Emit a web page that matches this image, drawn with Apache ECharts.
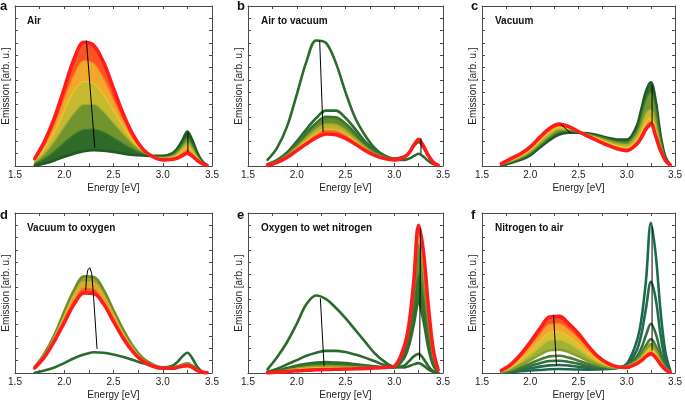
<!DOCTYPE html>
<html><head><meta charset="utf-8">
<script src="https://cdn.jsdelivr.net/npm/echarts@6/dist/echarts.min.js"></script>
<style>html,body{margin:0;padding:0;background:#fff}#c{width:685px;height:403px}</style>
</head><body><div id="c"></div>
<script>
// shared energy grid (eV)
const energy = [1.7,1.8,1.9,2.0,2.1,2.2,2.3,2.4,2.5,2.6,2.7,2.8,2.9,3.0,3.1,3.15,3.2,3.25,3.3,3.35,3.4,3.45];
const xTicks = [1.5,2.0,2.5,3.0,3.5];

// a: Air
const air0 = [0.05,0.2,0.45,0.75,1.0,1.2,1.28,1.25,1.15,1.0,0.9,0.85,0.82,0.82,1.05,1.45,2.1,2.8,2.1,1.1,0.4,0.08];
const air1 = [0.2,0.6,1.2,1.9,2.55,2.95,3.0,2.75,2.3,1.8,1.35,1.0,0.8,0.75,0.95,1.3,1.8,2.3,1.75,0.9,0.35,0.07];
const air2 = [0.32,1.0,2.0,3.2,4.3,5.0,5.0,4.4,3.5,2.6,1.75,1.15,0.78,0.68,0.8,1.05,1.5,1.9,1.45,0.75,0.3,0.06];
const air3 = [0.43,1.4,2.75,4.5,6.1,6.85,6.7,5.8,4.5,3.2,2.0,1.22,0.76,0.6,0.7,0.9,1.25,1.55,1.2,0.65,0.27,0.06];
const air4 = [0.52,1.7,3.3,5.4,7.4,8.55,8.3,7.1,5.35,3.65,2.25,1.28,0.75,0.55,0.62,0.75,1.05,1.3,1.0,0.55,0.23,0.05];
const air5 = [0.6,2.0,3.9,6.3,8.7,10.05,9.8,8.4,6.3,4.2,2.5,1.35,0.75,0.5,0.55,0.65,0.85,1.05,0.8,0.45,0.2,0.05];

// b: Air to vacuum
const airVac0 = [0.5,1.5,3.2,5.8,8.5,10.2,10.0,8.4,6.0,3.9,2.5,1.45,0.82,0.5,0.5,0.6,0.8,1.0,0.75,0.4,0.15,0.03];
const airVac1 = [0.15,0.5,1.1,2.0,3.0,3.9,4.5,4.5,3.9,3.0,2.0,1.3,0.85,0.6,0.75,1.05,1.6,1.95,1.5,0.8,0.3,0.05];
const airVac2 = [0.12,0.45,1.0,1.8,2.7,3.5,4.0,3.95,3.45,2.65,1.8,1.2,0.8,0.58,0.75,1.07,1.65,2.05,1.55,0.85,0.32,0.05];
const airVac3 = [0.1,0.4,0.9,1.6,2.35,3.05,3.45,3.4,2.95,2.3,1.6,1.05,0.72,0.55,0.75,1.1,1.7,2.15,1.65,0.88,0.33,0.05];
const airVac4 = [0.08,0.35,0.8,1.4,2.05,2.65,3.0,2.95,2.6,2.0,1.4,0.95,0.66,0.52,0.75,1.12,1.75,2.28,1.72,0.9,0.34,0.05];
const airVac5 = [0.05,0.3,0.7,1.25,1.8,2.3,2.6,2.55,2.25,1.78,1.27,0.87,0.6,0.5,0.72,1.05,1.68,2.15,1.6,0.85,0.3,0.05];

// c: Vacuum
const vac0 = [0.05,0.25,0.5,0.87,1.5,2.1,2.55,2.7,2.7,2.65,2.5,2.3,2.15,2.15,3.2,4.6,6.1,6.8,5.3,2.5,0.75,0.1];
const vac1 = [0.08,0.32,0.6,1.0,1.65,2.3,2.75,2.85,2.75,2.6,2.42,2.2,2.0,1.95,2.85,4.0,5.4,6.0,4.6,2.2,0.68,0.1];
const vac2 = [0.11,0.39,0.7,1.15,1.85,2.5,2.95,2.95,2.78,2.55,2.33,2.05,1.82,1.72,2.45,3.3,4.3,4.6,3.5,1.75,0.57,0.09];
const vac3 = [0.14,0.46,0.8,1.3,2.05,2.72,3.12,3.05,2.8,2.5,2.22,1.9,1.62,1.5,2.05,2.75,3.6,3.9,2.9,1.45,0.5,0.08];
const vac4 = [0.17,0.53,0.9,1.42,2.2,2.9,3.27,3.12,2.8,2.45,2.13,1.8,1.5,1.36,1.9,2.5,3.25,3.6,2.6,1.35,0.47,0.08];
const vac5 = [0.2,0.6,1.0,1.55,2.35,3.05,3.4,3.2,2.8,2.4,2.05,1.7,1.4,1.25,1.75,2.3,3.0,3.4,2.4,1.25,0.45,0.08];

// d: Vacuum to oxygen
const vacOx0 = [0.02,0.2,0.45,0.8,1.2,1.5,1.68,1.65,1.5,1.3,1.05,0.8,0.57,0.46,0.6,0.9,1.35,1.65,1.2,0.5,0.12,0.02];
const vacOx1 = [0.5,1.6,3.1,5.0,6.75,7.85,7.8,6.75,5.1,3.5,2.15,1.2,0.7,0.45,0.45,0.55,0.7,0.78,0.6,0.3,0.1,0.02];
const vacOx2 = [0.47,1.5,2.95,4.7,6.4,7.4,7.35,6.35,4.8,3.25,2.0,1.1,0.65,0.43,0.43,0.52,0.65,0.72,0.55,0.28,0.09,0.02];
const vacOx3 = [0.44,1.4,2.8,4.4,6.0,6.95,6.9,5.95,4.5,3.0,1.85,1.02,0.6,0.4,0.4,0.48,0.6,0.66,0.5,0.25,0.08,0.02];
const vacOx4 = [0.4,1.3,2.6,4.1,5.6,6.5,6.45,5.6,4.2,2.8,1.7,0.95,0.55,0.38,0.38,0.45,0.55,0.6,0.45,0.22,0.07,0.02];

// e: Oxygen to wet nitrogen
const oxWet0 = [0.3,1.3,2.5,4.0,5.6,6.3,6.0,5.3,4.45,3.5,2.55,1.6,0.92,0.5,0.45,0.55,0.7,0.8,0.6,0.3,0.1,0.02];
const oxWet1 = [0.1,0.35,0.7,1.05,1.4,1.65,1.8,1.8,1.7,1.5,1.25,0.95,0.65,0.45,0.6,0.95,1.35,1.55,1.15,0.55,0.15,0.02];
const oxWet2 = [0.05,0.2,0.4,0.6,0.75,0.85,0.88,0.85,0.8,0.72,0.63,0.55,0.47,0.45,1.2,2.2,3.9,5.7,4.2,2.0,0.6,0.05];
const oxWet3 = [0.04,0.16,0.33,0.5,0.63,0.7,0.72,0.7,0.66,0.6,0.55,0.5,0.46,0.48,1.6,3.0,5.3,8.0,6.0,3.0,0.9,0.08];
const oxWet4 = [0.03,0.12,0.26,0.4,0.5,0.55,0.57,0.56,0.53,0.5,0.47,0.45,0.45,0.5,1.9,3.6,6.7,10.5,8.0,4.1,1.3,0.15];
const oxWet5 = [0.02,0.09,0.19,0.3,0.37,0.42,0.44,0.43,0.42,0.41,0.41,0.42,0.45,0.52,2.0,3.8,7.1,11.4,9.0,4.8,1.6,0.2];
const oxWet6 = [0.01,0.06,0.12,0.18,0.22,0.26,0.28,0.3,0.32,0.34,0.37,0.4,0.45,0.55,2.1,3.9,7.4,12.0,9.8,5.4,1.9,0.25];

// f: Nitrogen to air
const nitAir0 = [0.03,0.08,0.14,0.2,0.25,0.3,0.32,0.3,0.28,0.27,0.28,0.32,0.42,0.75,2.5,4.3,7.6,12.2,9.6,5.0,1.7,0.2];
const nitAir1 = [0.04,0.12,0.24,0.38,0.52,0.62,0.65,0.6,0.5,0.42,0.36,0.35,0.42,0.65,1.8,3.1,5.3,7.4,6.0,3.1,1.0,0.12];
const nitAir2 = [0.05,0.17,0.35,0.57,0.8,0.97,1.0,0.9,0.74,0.57,0.45,0.4,0.42,0.6,1.3,2.0,3.1,4.0,3.2,1.7,0.6,0.1];
const nitAir3 = [0.06,0.22,0.48,0.78,1.1,1.35,1.4,1.25,1.0,0.75,0.55,0.45,0.42,0.55,1.05,1.55,2.25,2.75,2.2,1.2,0.45,0.08];
const nitAir4 = [0.08,0.3,0.65,1.05,1.5,1.85,1.9,1.7,1.35,0.98,0.68,0.5,0.43,0.52,0.95,1.35,1.95,2.35,1.85,1.0,0.4,0.07];
const nitAir5 = [0.11,0.4,0.88,1.45,2.1,2.65,2.7,2.4,1.9,1.35,0.88,0.58,0.44,0.5,0.9,1.25,1.75,2.1,1.65,0.9,0.35,0.06];
const nitAir6 = [0.14,0.5,1.08,1.8,2.6,3.3,3.35,2.95,2.35,1.65,1.05,0.65,0.45,0.48,0.85,1.15,1.6,1.9,1.5,0.82,0.32,0.06];
const nitAir7 = [0.17,0.6,1.28,2.15,3.1,3.95,4.0,3.5,2.8,1.93,1.2,0.72,0.47,0.46,0.8,1.08,1.45,1.7,1.35,0.75,0.3,0.05];
const nitAir8 = [0.2,0.7,1.5,2.5,3.6,4.55,4.6,4.0,3.2,2.2,1.35,0.8,0.5,0.45,0.75,1.0,1.35,1.55,1.25,0.7,0.28,0.05];

// arrows (annotation polylines in data coordinates)
const arrowsA = [[[2.31,1.5],[2.225,10.2]], [[3.255,2.7],[3.255,1.15]]];
const arrowsB = [[[2.235,10.2],[2.27,2.75]], [[3.274,1.0],[3.274,2.25]]];
const arrowsC = [[[2.418,2.68],[2.316,3.39]], [[3.262,6.56],[3.262,3.4]]];
const arrowsD = [[[2.333,1.95],[2.30,5.93],[2.279,8.1],[2.259,8.56],[2.239,8.37],[2.225,7.7],[2.218,6.7]]];
const arrowsE = [[[2.242,6.07],[2.28,0.55]], [[3.26,1.06],[3.27,11.76]]];
const arrowsF = [[[2.272,0.57],[2.241,4.72]], [[3.262,11.9],[3.262,1.82]]];

const FONT = 'Liberation Sans, Arial, sans-serif';
const panels = [
  {letter:'a', title:'Air', grid:[14,6,198,160], curves:[air0,air1,air2,air3,air4,air5],
   colors:['#1f5a27','#3f7a2b','#a3ad30','#ebc530','#f78a28','#ff1c1c'], fill:[1,1,1,1,1], arrows:arrowsA},
  {letter:'b', title:'Air to vacuum', grid:[248,6,195,160], curves:[airVac0,airVac1,airVac2,airVac3,airVac4,airVac5],
   colors:['#2b6a2c','#2b6a2c','#3a7530','#8fa02c','#e2c232','#ff1c1c'], fill:[0,0,1,1,1], arrows:arrowsB},
  {letter:'c', title:'Vacuum', grid:[482,6,196,160], curves:[vac0,vac1,vac2,vac3,vac4,vac5],
   colors:['#1f5a27','#4a8030','#a3ad30','#ebc530','#f78a28','#ff1c1c'], fill:[1,1,1,1,1], arrows:arrowsC},
  {letter:'d', title:'Vacuum to oxygen', grid:[14,213,198,160], curves:[vacOx0,vacOx1,vacOx2,vacOx3,vacOx4],
   colors:['#2b6a2c','#6f8c2a','#c8b634','#f59a28','#ff1c1c'], fill:[0,1,1,1], arrows:arrowsD},
  {letter:'e', title:'Oxygen to wet nitrogen', grid:[248,213,195,160], curves:[oxWet0,oxWet1,oxWet2,oxWet3,oxWet4,oxWet5,oxWet6],
   colors:['#2b6a2c','#2b6a2c','#2f6d2d','#3b752d','#8fa52e','#eec232','#ff1c1c'], fill:[0,0,1,1,1,1], arrows:arrowsE},
  {letter:'f', title:'Nitrogen to air', grid:[482,213,196,160], curves:[nitAir0,nitAir1,nitAir2,nitAir3,nitAir4,nitAir5,nitAir6,nitAir7,nitAir8],
   colors:['#1a6a52','#24694a','#34703e','#4a7c34','#86a030','#c2c035','#f0c030','#f68a28','#ff1c1c'], fill:[0,0,0,0,1,1,1,1], arrows:arrowsF}
];

function hex(c){return [1,3,5].map(i=>parseInt(c.substr(i,2),16));}
function mix(a,b){const A=hex(a),B=hex(b);return 'rgb('+A.map((v,i)=>Math.round((v+B[i])/2)).join(',')+')';}

const AX = '#4a4a4a';
const grids=[], xAxes=[], yAxes=[], series=[], titles=[];
panels.forEach((p,i)=>{
  const [l,t,w,h]=p.grid;
  grids.push({left:l, top:t, width:w, height:h, containLabel:false});
  const xBase = {gridIndex:i, type:'value', min:1.5, max:3.5, interval:0.25,
    axisLine:{show:true, onZero:false, lineStyle:{color:AX, width:1}},
    axisTick:{show:true, inside:true, length:3, lineStyle:{color:AX}},
    splitLine:{show:false}};
  xAxes.push(Object.assign({}, xBase, {position:'bottom',
    axisLabel:{show:true, margin:4, fontSize:10, fontFamily:FONT, color:'#222', showMinLabel:true, showMaxLabel:true,
      formatter:v=>{const m=xTicks.find(tk=>Math.abs(tk-v)<1e-6); return m===undefined?'':m.toFixed(1);}},
    name:'Energy [eV]', nameLocation:'middle', nameGap:17, nameTextStyle:{fontSize:10, fontFamily:FONT, color:'#222'}}));
  xAxes.push(Object.assign({}, xBase, {position:'top', axisLabel:{show:false}}));
  const yBase = {gridIndex:i, type:'value', min:0, max:13, interval:1,
    axisLine:{show:true, onZero:false, lineStyle:{color:AX, width:1}},
    axisTick:{show:true, inside:true, length:3, lineStyle:{color:AX}},
    axisLabel:{show:false}, splitLine:{show:false}};
  yAxes.push(Object.assign({}, yBase, {position:'left',
    name:'Emission [arb. u.]', nameLocation:'middle', nameGap:4, nameTextStyle:{fontSize:10, fontFamily:FONT, color:'#222'}}));
  yAxes.push(Object.assign({}, yBase, {position:'right'}));

  const n = p.curves.length;
  p.curves.forEach((c,k)=>{
    const prev = k>0 ? p.curves[k-1] : null;
    const inside = k>0 && k<n-1 && p.fill[k-1] && p.fill[k];
    const width = (k===n-1) ? 3.6 : (inside ? 1.3 : 2.6);
    // value column first so that the stack is applied to the emission (y) dimension
    const s = {type:'line', xAxisIndex:2*i, yAxisIndex:2*i, stack:'p'+i, stackStrategy:'all',
      smooth:0.35, symbol:'none', silent:true,
      dimensions:['em','en'], encode:{x:'en', y:'em'},
      data: energy.map((x,j)=>[prev ? +(c[j]-prev[j]).toFixed(4) : c[j], x]),
      lineStyle:{color:p.colors[k], width:width, cap:'round', join:'round'}};
    if (k>0 && p.fill[k-1]) s.areaStyle = {color: mix(p.colors[k-1], p.colors[k]), opacity:1};
    series.push(s);
  });
  series.push({type:'lines', coordinateSystem:'cartesian2d', xAxisIndex:2*i, yAxisIndex:2*i, polyline:true,
    symbol:['none','arrow'], symbolSize:7, silent:true, z:10,
    lineStyle:{color:'#000', width:1, opacity:1},
    data:p.arrows.map(a=>({coords:a}))});

  titles.push({text:p.letter, left:(l<100?0:l-11), top:(t<100?0:t-4), padding:0,
    textStyle:{fontSize:13, fontWeight:'bold', fontFamily:FONT, color:'#111'}});
  titles.push({text:p.title, left:l+13, top:t+10, padding:0,
    textStyle:{fontSize:10, fontWeight:'bold', fontFamily:FONT, color:'#111'}});
});

const chart = echarts.init(document.getElementById('c'), null, {renderer:'canvas'});
chart.setOption({animation:false, backgroundColor:'#fff', title:titles, grid:grids, xAxis:xAxes, yAxis:yAxes, series:series});
</script></body></html>
